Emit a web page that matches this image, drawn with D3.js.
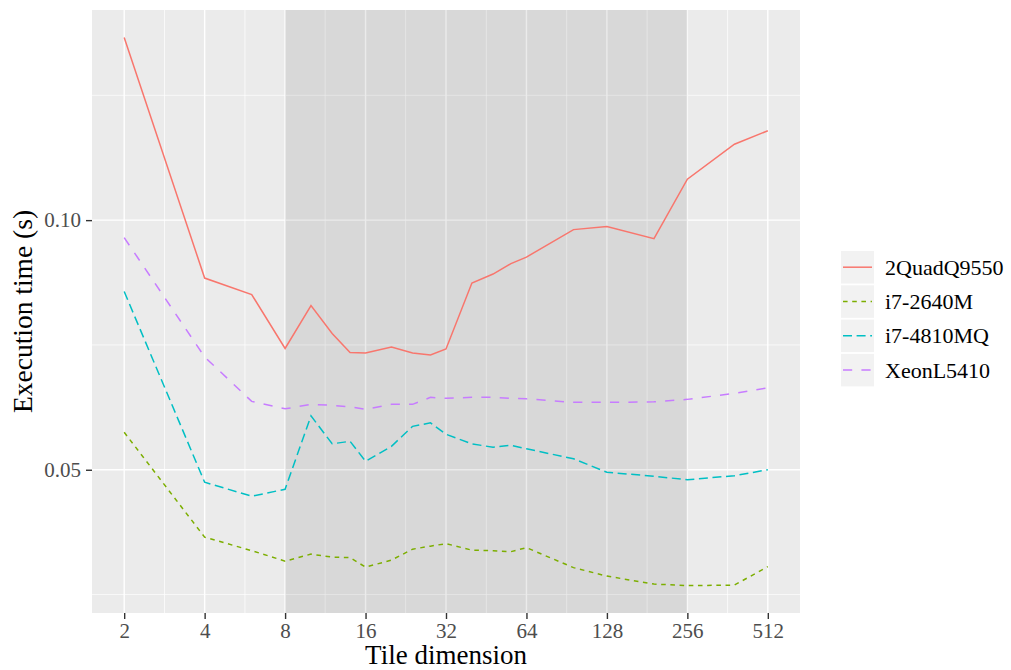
<!DOCTYPE html>
<html>
<head>
<meta charset="utf-8">
<script src="https://cdn.jsdelivr.net/npm/d3@7"></script>
<style>
  body { margin: 0; background: #fff; }
  svg text { font-family: "Palatino Linotype", "Book Antiqua", Palatino, "Liberation Serif", serif; }
</style>
</head>
<body>
<svg id="chart" width="1011" height="670"></svg>
<script>
// tile sizes (x) and execution time in seconds for each machine
var tileSizes = [2, 4, 6, 8, 10, 12, 14, 16, 20, 24, 28, 32, 40, 48, 56, 64, 96, 128, 192, 256, 384, 512];
var quadQ9550 = [0.1366, 0.0884, 0.0851, 0.0743, 0.0829, 0.0773, 0.0735, 0.0734, 0.0746, 0.0734, 0.0730, 0.0742,
                 0.0874, 0.0892, 0.0913, 0.0926, 0.0981, 0.0987, 0.0963, 0.1082, 0.1152, 0.1179];
var i7_2640M = [0.0575, 0.0365, 0.0338, 0.0317, 0.0331, 0.0325, 0.0324, 0.0305, 0.0319, 0.0341, 0.0347, 0.0352,
                0.0339, 0.0338, 0.0336, 0.0344, 0.0304, 0.0287, 0.0271, 0.0268, 0.0269, 0.0306];
var i7_4810MQ = [0.0857, 0.0475, 0.0447, 0.0461, 0.0608, 0.0552, 0.0557, 0.0517, 0.0547, 0.0587, 0.0594, 0.0571,
                 0.0552, 0.0545, 0.0549, 0.0542, 0.0522, 0.0495, 0.0487, 0.0480, 0.0488, 0.0500];
var xeonL5410 = [0.0965, 0.0726, 0.0637, 0.0622, 0.0631, 0.0629, 0.0626, 0.0621, 0.0631, 0.0631, 0.0645, 0.0643,
                 0.0645, 0.0645, 0.0643, 0.0642, 0.0635, 0.0635, 0.0636, 0.0641, 0.0653, 0.0664];

var seriesNames = ["2QuadQ9550", "i7-2640M", "i7-4810MQ", "XeonL5410"];
var seriesValues = [quadQ9550, i7_2640M, i7_4810MQ, xeonL5410];
var seriesColors = ["#F8766D", "#7CAE00", "#00BFC4", "#C77CFF"];
var seriesDash = [null, "4.6,4.6", "9,4.6", "9.2,9.2"];

var xTicks = [2, 4, 8, 16, 32, 64, 128, 256, 512];
var xMinor = [2.83, 5.66, 11.3, 22.6, 45.3, 90.5, 181, 362];
var yTicks = [0.05, 0.10];
var yMinor = [0.025, 0.075, 0.125];
var highlight = [8, 256];

var svg = d3.select("#chart"),
    panel = {left: 92, right: 800, top: 10, bottom: 613};

// log2 x scale with ggplot style 5% expansion
var lx0 = Math.log2(d3.min(tileSizes)), lx1 = Math.log2(d3.max(tileSizes)),
    lpad = (lx1 - lx0) * 0.05;
var x = d3.scaleLog().base(2)
    .domain([Math.pow(2, lx0 - lpad), Math.pow(2, lx1 + lpad)])
    .range([panel.left, panel.right]);

var allVals = d3.merge(seriesValues),
    ymin = d3.min(allVals), ymax = d3.max(allVals),
    ypad = (ymax - ymin) * 0.05;
var y = d3.scaleLinear()
    .domain([ymin - ypad, ymax + ypad])
    .range([panel.bottom, panel.top]);

// panel background
svg.append("rect")
    .attr("x", panel.left).attr("y", panel.top)
    .attr("width", panel.right - panel.left).attr("height", panel.bottom - panel.top)
    .attr("fill", "#EBEBEB");

// grid lines
var grid = svg.append("g");
grid.selectAll(".vminor").data(xMinor).enter().append("line")
    .attr("x1", function(d) { return x(d); }).attr("x2", function(d) { return x(d); })
    .attr("y1", panel.top).attr("y2", panel.bottom)
    .attr("stroke", "#fff").attr("stroke-width", 0.7);
grid.selectAll(".hminor").data(yMinor).enter().append("line")
    .attr("y1", function(d) { return y(d); }).attr("y2", function(d) { return y(d); })
    .attr("x1", panel.left).attr("x2", panel.right)
    .attr("stroke", "#fff").attr("stroke-width", 0.7);
grid.selectAll(".vmajor").data(xTicks).enter().append("line")
    .attr("x1", function(d) { return x(d); }).attr("x2", function(d) { return x(d); })
    .attr("y1", panel.top).attr("y2", panel.bottom)
    .attr("stroke", "#fff").attr("stroke-width", 1.4);
grid.selectAll(".hmajor").data(yTicks).enter().append("line")
    .attr("y1", function(d) { return y(d); }).attr("y2", function(d) { return y(d); })
    .attr("x1", panel.left).attr("x2", panel.right)
    .attr("stroke", "#fff").attr("stroke-width", 1.4);

// shaded tile range
svg.append("rect")
    .attr("x", x(highlight[0])).attr("y", panel.top)
    .attr("width", x(highlight[1]) - x(highlight[0]))
    .attr("height", panel.bottom - panel.top)
    .attr("fill", "#000").attr("fill-opacity", 0.08);

// lines
var line = d3.line()
    .x(function(d, i) { return x(tileSizes[i]); })
    .y(function(d) { return y(d); });

svg.append("g").selectAll("path").data(seriesValues).enter().append("path")
    .attr("d", line)
    .attr("fill", "none")
    .attr("stroke", function(d, i) { return seriesColors[i]; })
    .attr("stroke-width", 1.5)
    .attr("stroke-dasharray", function(d, i) { return seriesDash[i]; });

// axes
var xAxis = d3.axisBottom(x).tickValues(xTicks).tickFormat(d3.format("d")).tickSize(6).tickPadding(4);
var yAxis = d3.axisLeft(y).tickValues(yTicks).tickFormat(d3.format(".2f")).tickSize(6).tickPadding(5);

svg.append("g")
    .attr("transform", "translate(0," + panel.bottom + ")")
    .call(xAxis)
    .call(styleAxis);

svg.append("g")
    .attr("transform", "translate(" + panel.left + ",0)")
    .call(yAxis)
    .call(styleAxis);

function styleAxis(g) {
  g.select(".domain").remove();
  g.selectAll(".tick line").attr("stroke", "#333").attr("stroke-width", 1.4);
  g.selectAll(".tick text").attr("fill", "#4D4D4D").attr("font-size", 21);
}

// axis titles
svg.append("text")
    .attr("x", (panel.left + panel.right) / 2).attr("y", 664)
    .attr("text-anchor", "middle")
    .attr("font-size", 27)
    .attr("fill", "#000")
    .text("Tile dimension");

svg.append("text")
    .attr("transform", "translate(32," + (panel.top + panel.bottom) / 2 + ") rotate(-90)")
    .attr("text-anchor", "middle")
    .attr("font-size", 27.5)
    .attr("fill", "#000")
    .text("Execution time (s)");

// legend
var legend = svg.append("g").attr("transform", "translate(841,251)");
var keys = legend.selectAll("g").data(seriesNames).enter().append("g")
    .attr("transform", function(d, i) { return "translate(0," + i * 34.3 + ")"; });

keys.append("rect")
    .attr("width", 33).attr("height", 32.5)
    .attr("fill", "#F2F2F2");

keys.append("line")
    .attr("x1", 2).attr("x2", 31)
    .attr("y1", 16.2).attr("y2", 16.2)
    .attr("stroke", function(d, i) { return seriesColors[i]; })
    .attr("stroke-width", 1.5)
    .attr("stroke-dasharray", function(d, i) { return seriesDash[i]; });

keys.append("text")
    .attr("x", 44).attr("y", 16.2)
    .attr("dy", "0.35em")
    .attr("font-size", 22)
    .attr("fill", "#000")
    .text(function(d) { return d; });
</script>
</body>
</html>
